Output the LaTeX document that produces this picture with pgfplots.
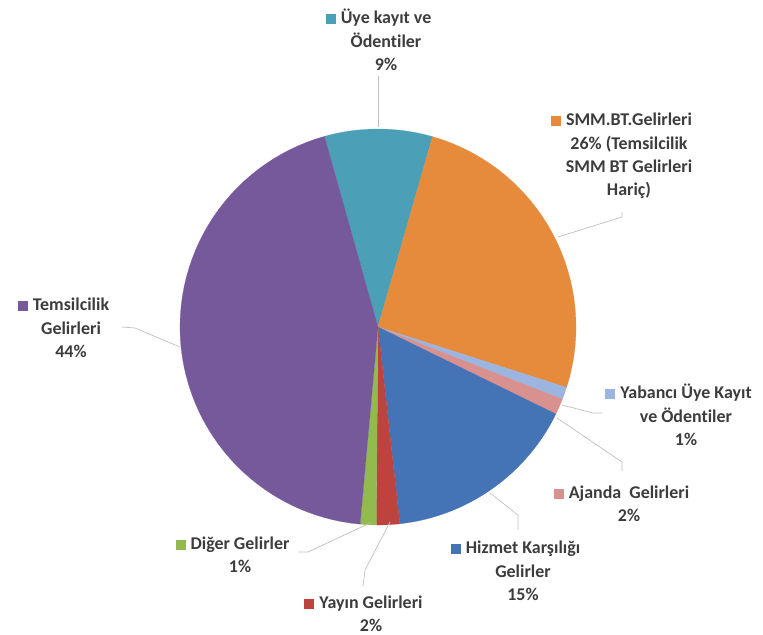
\documentclass[border=0pt]{standalone}
\usepackage{pgfplots}
\pgfplotsset{compat=1.18}
\usepackage{fontspec}
\setmainfont{Carlito}[Ligatures=NoCommon]
\definecolor{cteal}{HTML}{4BA0B8}
\definecolor{corange}{HTML}{E68A3C}
\definecolor{cpurple}{HTML}{76599B}
\definecolor{cblue}{HTML}{4473B6}
\definecolor{cred}{HTML}{BE433F}
\definecolor{cgreen}{HTML}{92BA4E}
\definecolor{cpink}{HTML}{D9918F}
\definecolor{clblue}{HTML}{9BB5E0}
\definecolor{ctext}{HTML}{3C3C3C}
\definecolor{cleader}{HTML}{BFBFBF}
% slice: start%, end% (cumulative, clockwise from top, starting at -4.36%)
\newcommand{\slice}[3]{%
  \addplot[fill=#3, draw=#3, line width=0.2pt, domain=#1:#2, samples=60, variable=\t]
    ({378+198*sin(3.6*\t)}, {327-198*cos(3.6*\t)}) -- (axis cs:378,327) -- cycle;}
\newcommand{\key}[1]{\llap{\textcolor{#1}{\rule{10bp}{10bp}}\hspace{5bp}}}
\begin{document}
\begin{tikzpicture}
\begin{axis}[width=763bp, height=635bp, scale only axis,
  xmin=0, xmax=763, ymin=0, ymax=635, y dir=reverse,
  hide axis, clip=false]
% shares (%): 8.8, 25.5, 1.0, 1.3, 16.0, 1.9, 1.3, 44.2
\slice{-4.36}{4.44}{cteal}
\slice{4.44}{29.94}{corange}
\slice{29.94}{30.94}{clblue}
\slice{30.94}{32.24}{cpink}
\slice{32.24}{48.24}{cblue}
\slice{48.24}{50.14}{cred}
\slice{50.14}{51.44}{cgreen}
\slice{51.44}{95.64}{cpurple}
% leader lines
\addplot[cleader, line width=0.7pt] coordinates {(378,76) (378,127)};
\addplot[cleader, line width=0.7pt] coordinates {(558,237) (622,217) (622,212)};
\addplot[cleader, line width=0.7pt] coordinates {(562,405) (593,413) (602,413)};
\addplot[cleader, line width=0.7pt] coordinates {(557,418) (622,462) (622,471)};
\addplot[cleader, line width=0.7pt] coordinates {(490,493) (518,515) (518,530)};
\addplot[cleader, line width=0.7pt] coordinates {(390,522) (365,570) (363,586)};
\addplot[cleader, line width=0.7pt] coordinates {(370,523) (308,552) (298,552)};
\addplot[cleader, line width=0.7pt] coordinates {(122,327) (135,328) (180,347)};
% labels
\begin{scope}[every node/.style={align=center, inner sep=0pt, text=ctext,
   font=\fontsize{18}{23.5}\selectfont\bfseries}]
\node at (axis cs:386,40) {\key{cteal}Üye kayıt ve\\Ödentiler\\9\%};
\node at (axis cs:629,156) {\key{corange}SMM.BT.Gelirleri\\26\% (Temsilcilik\\SMM BT Gelirleri\\Hariç)};
\node at (axis cs:686,415) {\key{clblue}Yabancı Üye Kayıt\\ve Ödentiler\\1\%};
\node at (axis cs:629,504) {\key{cpink}Ajanda\ \ Gelirleri\\2\%};
\node at (axis cs:523,571) {\key{cblue}Hizmet Karşılığı\\Gelirler\\15\%};
\node at (axis cs:371,614) {\key{cred}Yayın Gelirleri\\2\%};
\node at (axis cs:240,555) {\key{cgreen}Diğer Gelirler\\1\%};
\node at (axis cs:71,328) {\key{cpurple}Temsilcilik\\Gelirleri\\44\%};
\end{scope}
\end{axis}
\pgfresetboundingbox
\useasboundingbox (0,0) rectangle (763bp,635bp);
\end{tikzpicture}
\end{document}
